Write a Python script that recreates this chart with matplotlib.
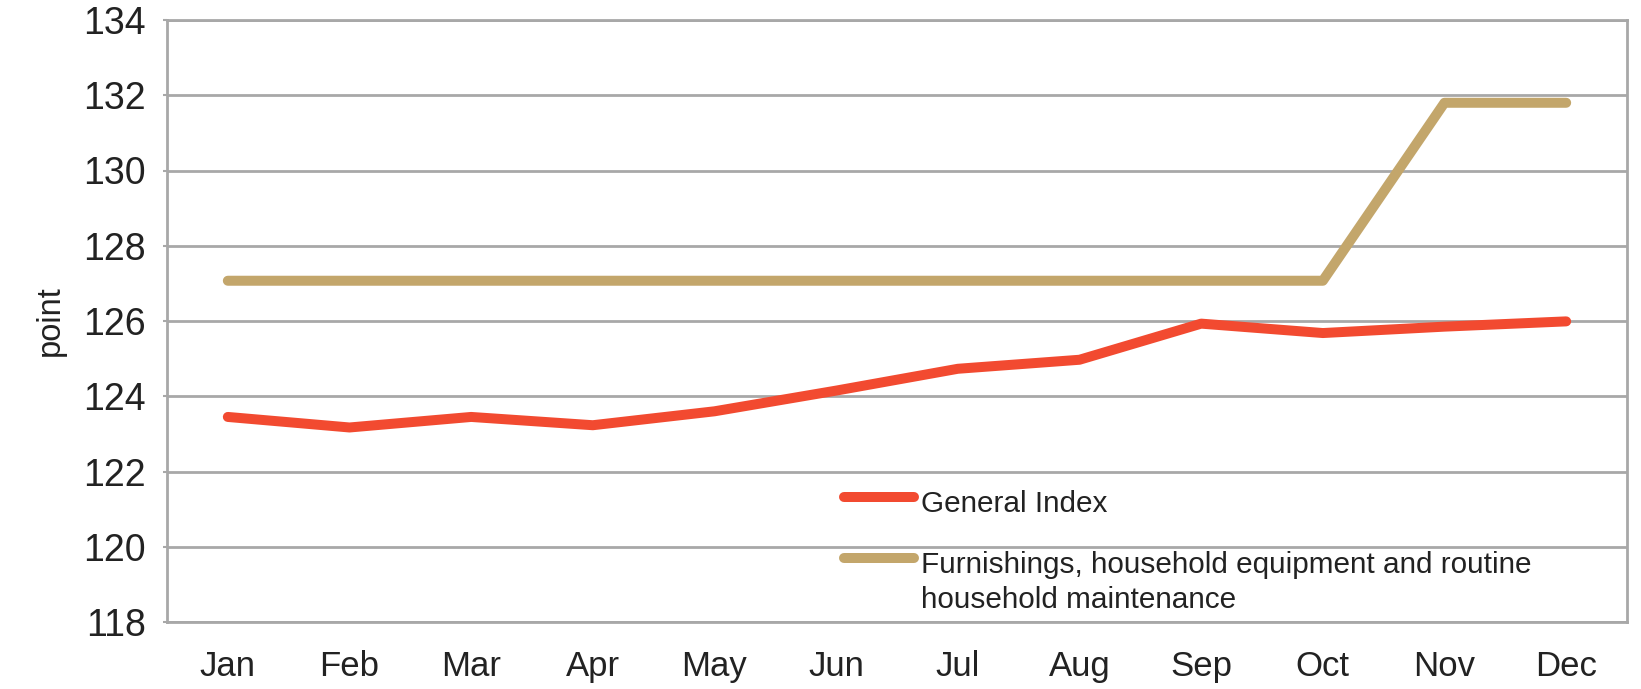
import matplotlib
matplotlib.use("Agg")
import matplotlib.pyplot as plt
from matplotlib.lines import Line2D

plt.rcParams['font.family'] = ['Liberation Sans', 'DejaVu Sans']

months = ["Jan", "Feb", "Mar", "Apr", "May", "Jun", "Jul", "Aug", "Sep", "Oct", "Nov", "Dec"]
general_index = [123.45, 123.17, 123.45, 123.23, 123.6, 124.15, 124.73, 124.97, 125.93, 125.68, 125.85, 125.99]
furnishings = [127.07, 127.07, 127.07, 127.07, 127.07, 127.07, 127.07, 127.07, 127.07, 127.07, 131.8, 131.8]
series_names = ["General Index", "Furnishings, household equipment and routine\nhousehold maintenance"]
yticks = [118, 120, 122, 124, 126, 128, 130, 132, 134]

red = "#F24A30"
gold = "#C3A66B"
grid_c = "#A8A8A8"
txt_c = "#222222"

W, H = 1641, 689
fig = plt.figure(figsize=(W / 100, H / 100), dpi=100)
ax = fig.add_axes([167 / W, 1 - 622 / H, (1627 - 167) / W, (622 - 20) / H])

x = list(range(len(months)))
ax.plot(x, general_index, color=red, lw=7.2, solid_capstyle='round', solid_joinstyle='round', zorder=3)
ax.plot(x, furnishings, color=gold, lw=7.2, solid_capstyle='round', solid_joinstyle='round', zorder=3)

ax.set_xlim(-0.5, len(months) - 0.5)
ax.set_ylim(118, 134)
ax.set_yticks(yticks)
ax.set_yticklabels([str(v) for v in yticks])
ax.set_xticks(x)
ax.set_xticklabels(months)
ax.yaxis.grid(True, color=grid_c, lw=2)
ax.set_axisbelow(True)
for s in ax.spines.values():
    s.set_color(grid_c)
    s.set_linewidth(2)
ax.tick_params(axis='y', length=3, width=1.5, color=grid_c, labelsize=27, labelcolor=txt_c, pad=12)
ax.tick_params(axis='x', length=0, labelsize=25, labelcolor=txt_c, pad=20)
ax.set_ylabel("point", fontsize=23.5, color=txt_c)
ax.yaxis.set_label_coords(-0.069, 0.5)

# manual legend
fx = lambda px: px / W
fy = lambda py: 1 - py / H
for name, col, ly in [(series_names[0], red, 497), (series_names[1], gold, 558)]:
    fig.add_artist(Line2D([fx(844), fx(914)], [fy(ly), fy(ly)], transform=fig.transFigure,
                          color=col, lw=7.2, solid_capstyle='round'))
    fig.text(fx(921), fy(ly - 7), name, fontsize=21.4, color=txt_c, va='top', ha='left',
             linespacing=1.3)

fig.savefig("out.png", dpi=100, facecolor="white")
